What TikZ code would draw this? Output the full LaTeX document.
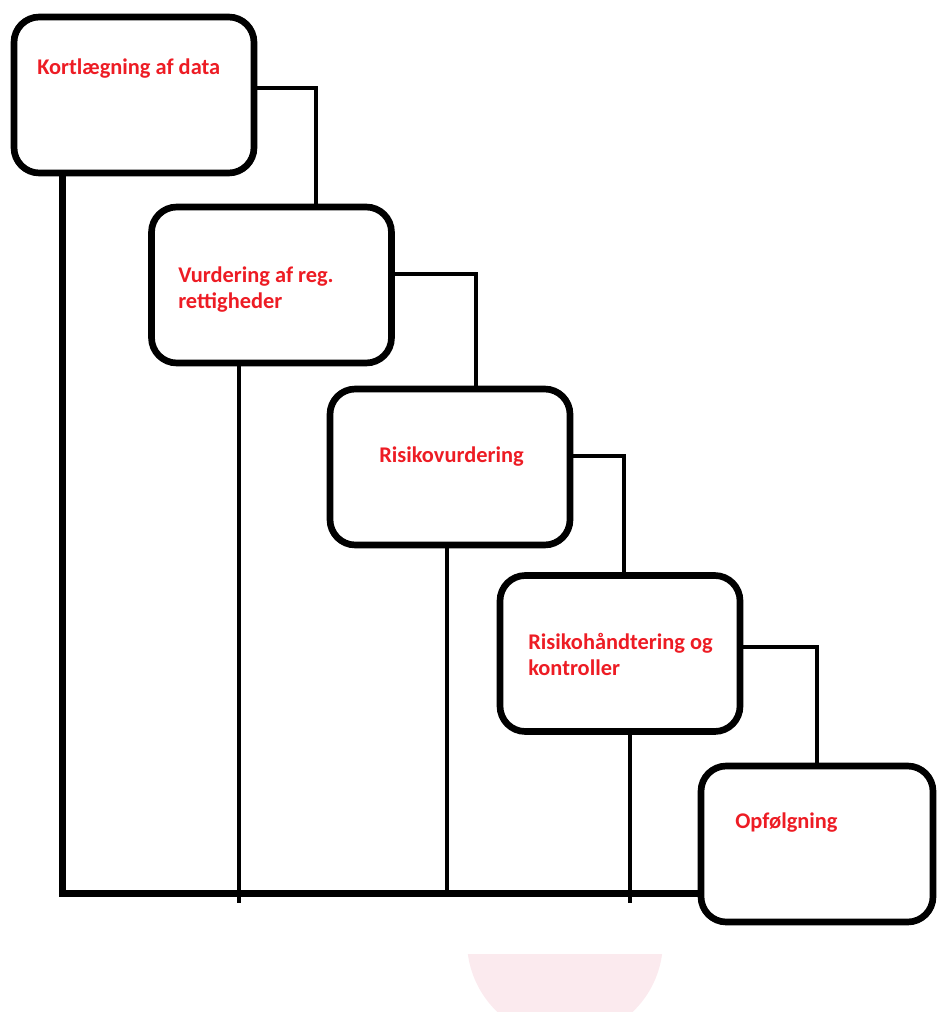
\documentclass[tikz,border=0pt]{standalone}
\usepackage{fontspec}
\setmainfont{Carlito}
\usepackage{xcolor}
\usetikzlibrary{calc}

\definecolor{PaintRed}{RGB}{237,28,36}
\definecolor{FadePink}{RGB}{251,234,238}

\begin{document}
\begin{tikzpicture}[x=0.75pt, y=-0.75pt,
	stage/.style={draw=black, line width=5pt, rounded corners=19pt,
		minimum width=180pt, minimum height=117pt, inner sep=0pt},
	stagetext/.style={anchor=base west, text=PaintRed, inner sep=0pt,
		font=\fontsize{16.8}{19.5}\selectfont\bfseries, align=left},
	link/.style={line width=3pt},
	rail/.style={line width=5.25pt}]

	\useasboundingbox (0,0) rectangle (936,1012);

	% faint shape below the rail
	\fill[FadePink] (662.1,954) arc[start angle=7.6, end angle=172.4, radius=98] -- cycle;

	% the five stages
	\node[stage] (k1) at (134,95) {};
	\node[stage] (k2) at (271.5,285) {};
	\node[stage] (k3) at (450,467) {};
	\node[stage] (k4) at (620,653.5) {};
	\node[stage, minimum width=174pt] (k5) at (817,844) {};

	% labels (base = last line)
	\node[stagetext] (t1) at (37,75) {Kortlægning af data};
	\node[stagetext] (t2) at (178,308) {Vurdering af reg.\\rettigheder};
	\node[stagetext] (t3) at (379,462) {Risikovurdering};
	\node[stagetext] (t4) at (528,675) {Risikohåndtering og\\kontroller};
	\node[stagetext] (t5) at (735,828) {Opfølgning};

	% steps from one stage to the next
	\coordinate (j1) at (316,88);
	\coordinate (j2) at (476,274);
	\coordinate (j3) at (624,456);
	\coordinate (j4) at (817,647);
	\draw[link] (k1.east |- j1) -| (k2.north -| j1);
	\draw[link] (k2.east |- j2) -| (k3.north -| j2);
	\draw[link] (k3.east |- j3) -| (k4.north -| j3);
	\draw[link] (k4.east |- j4) -| (k5.north -| j4);

	% lines down to the common rail
	\coordinate (r1) at (62,893);
	\coordinate (r2) at (239,903);
	\coordinate (r3) at (447,893);
	\coordinate (r4) at (630,903);
	\draw[rail] (k1.south -| r1) -- (r1) -- (k5.west |- r1);
	\draw[link] (k2.south -| r2) -- (r2);
	\draw[link] (k3.south -| r3) -- (r3);
	\draw[link] (k4.south -| r4) -- (r4);
\end{tikzpicture}
\end{document}
